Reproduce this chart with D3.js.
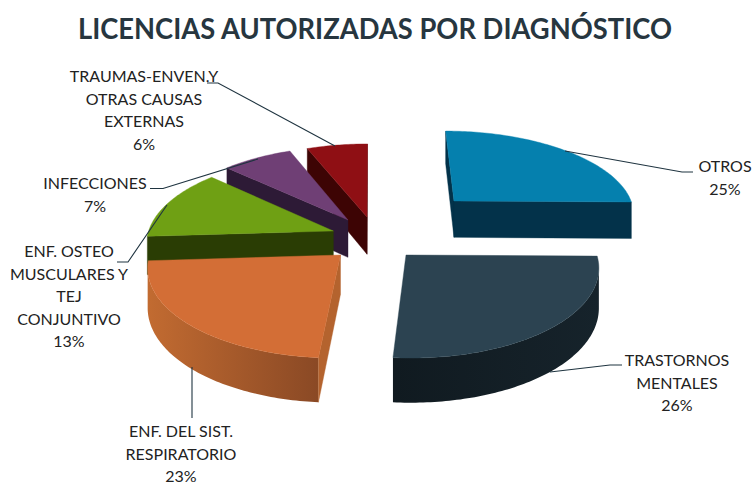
<!DOCTYPE html>
<html><head><meta charset="utf-8">
<script src="https://cdn.jsdelivr.net/npm/d3@7"></script>
<style>html,body{margin:0;background:#fff}svg{display:block}</style>
</head><body><svg id="c" width="753" height="482"></svg>
<script>
const chartTitle = "LICENCIAS AUTORIZADAS POR DIAGNÓSTICO";
const categories = ["OTROS","TRASTORNOS MENTALES","ENF. DEL SIST. RESPIRATORIO","ENF. OSTEO MUSCULARES Y TEJ CONJUNTIVO","INFECCIONES","TRAUMAS-ENVEN.Y OTRAS CAUSAS EXTERNAS"];
const values = [25.2,26.1,22.7,13,7,6];
const labelLines = [["OTROS"],["TRASTORNOS","MENTALES"],["ENF. DEL SIST.","RESPIRATORIO"],["ENF. OSTEO","MUSCULARES Y","TEJ","CONJUNTIVO"],["INFECCIONES"],["TRAUMAS-ENVEN.Y","OTRAS CAUSAS","EXTERNAS"]];
// layout of the exploded pie (plane units)
const explodeU = [.463,.178,-.165,-.209,-.132,-.0276];
const explodeV = [.381,-.262,-.262,.012,.1435,.18];
const topColors = ["#0580ae","#2c4351","#d36e36","#6fa014","#6f3f75","#8f0f14"];
const wallColors = ["#03324a","#121d24","#b4632e","#2a3d04","#2d1a36","#3d0404"];
const rimFrom = ["#03324a","#16232b","#8a4925","#2a3d04","#2d1a36","#3d0404"];
const rimTo = ["#03324a","#101a20","#c26b31","#2a3d04","#2d1a36","#3d0404"];
const paintOrder = [0,5,4,3,2,1];
const labelX = [725,677,181,69,95,144];
const labelY = [172,366,437,257,189,82];
const leaders = [
 [[565,151],[682,172],[693,172]],
 [[550,372],[610,365],[622,365]],
 [[192,367],[192,418]],
 [[167,205],[128,262],[117,262]],
 [[258,159],[163,188.5],[150,188.5]],
 [[335,146],[218,83],[207,83]]
];
const cx=372, cy=232, R=185, S=85, p=.118, H=38;
const svg=d3.select("#c");
const defs=svg.append("defs");
const project=(u,v,z)=>{const w=1+p*v;return [cx+R*u/w, cy+(-S*v+z*H)/w];};
const pie=d3.pie().sort(null).startAngle(0).endAngle(2*Math.PI)(values);
const line=d3.line();
const g=svg.append("g");
const rim=(a,i)=>[explodeU[i]+Math.sin(a),explodeV[i]+Math.cos(a)];
paintOrder.forEach(i=>{
  const s=pie[i];
  const apex=[explodeU[i],explodeV[i]];
  const n=Math.max(2,Math.ceil((s.endAngle-s.startAngle)*180/Math.PI));
  const angles=d3.range(n+1).map(k=>s.startAngle+(s.endAngle-s.startAngle)*k/n);
  const ring=angles.map(a=>rim(a,i));
  const wall=(A,B)=>[project(A[0],A[1],0),project(B[0],B[1],0),project(B[0],B[1],1),project(A[0],A[1],1)];
  const visible=q=>d3.polygonArea(q)>0;
  // outer wall: one gradient-filled band across the segments that face the viewer
  const front=d3.range(n).filter(k=>visible(wall(ring[k],ring[k+1])));
  if(front.length){
    const idx=[...front,front[front.length-1]+1];
    const upper=idx.map(k=>project(ring[k][0],ring[k][1],0));
    const lower=idx.map(k=>project(ring[k][0],ring[k][1],1)).reverse();
    const id="rim"+i;
    const gr=defs.append("linearGradient").attr("id",id).attr("gradientUnits","userSpaceOnUse")
      .attr("x1",upper[0][0]).attr("y1",0).attr("x2",upper[upper.length-1][0]).attr("y2",0);
    gr.append("stop").attr("offset",0).attr("stop-color",rimFrom[i]);
    gr.append("stop").attr("offset",1).attr("stop-color",rimTo[i]);
    g.append("path").attr("d",line([...upper,...lower])+"Z").attr("fill",`url(#${id})`);
  }
  // radial walls
  [wall(apex,ring[0]),wall(ring[n],apex)].forEach(q=>{
    if(visible(q)) g.append("path").attr("d",line(q)+"Z").attr("fill",wallColors[i]).attr("stroke",wallColors[i]).attr("stroke-width",.4);
  });
  // top
  const top=[apex,...ring].map(d=>project(d[0],d[1],0));
  g.append("path").attr("d",line(top)+"Z").attr("fill",topColors[i]).attr("stroke",topColors[i]).attr("stroke-width",.4);
});
// leaders
const ink="#1f3440";
leaders.forEach(l=>svg.append("path").attr("d",line(l)).attr("fill","none").attr("stroke",ink).attr("stroke-width",1.1));
// labels
categories.forEach((c,i)=>{
  const lines=[...labelLines[i],Math.round(values[i])+"%"];
  const t=svg.append("text").attr("text-anchor","middle").attr("font-family","Lato, Carlito, sans-serif").attr("font-size",16).attr("fill","#222");
  lines.forEach((ln,k)=>t.append("tspan").attr("x",labelX[i]).attr("y",labelY[i]+k*22.6).text(ln));
});
svg.append("text").attr("x",375).attr("y",39).attr("text-anchor","middle").attr("font-family","Lato, Carlito, sans-serif").attr("font-weight",700).attr("font-size",29).attr("textLength",594).attr("lengthAdjust","spacingAndGlyphs").attr("fill","#27363f").text(chartTitle);
</script></body></html>
